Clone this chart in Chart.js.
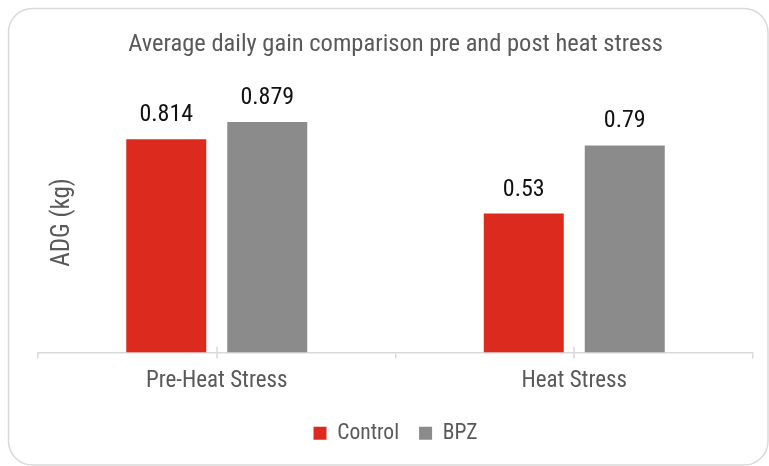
<!DOCTYPE html>
<html>
<head>
<meta charset="utf-8">
<script src="https://cdn.jsdelivr.net/npm/chart.js@4/dist/chart.umd.min.js"></script>
<style>
html,body{margin:0;padding:0;background:#fff;}
canvas{display:block;}
</style>
</head>
<body>
<canvas id="c" width="769" height="466"></canvas>
<script>
const categories = ['Pre-Heat Stress', 'Heat Stress'];
const seriesNames = ['Control', 'BPZ'];
const controlValues = [0.814, 0.53];
const bpzValues = [0.879, 0.79];
const chartTitle = 'Average daily gain comparison pre and post heat stress';
const yAxisTitle = 'ADG (kg)';

const FONT = '"Roboto Condensed", "Arial Narrow", "Liberation Sans", sans-serif';
const RED = '#DC2A1E';
const GRAY = '#8B8B8B';
const LINE = '#D9D9D9';
const TEXT = '#595959';

const framePlugin = {
  id: 'frame',
  beforeDraw(chart) {
    const ctx = chart.ctx;
    ctx.save();
    ctx.fillStyle = '#fff';
    ctx.fillRect(0, 0, chart.width, chart.height);
    ctx.strokeStyle = LINE;
    ctx.lineWidth = 1.5;
    ctx.beginPath();
    ctx.roundRect(8.5, 8.5, chart.width - 9.5, chart.height - 9.5, 24);
    ctx.stroke();
    ctx.restore();
  }
};

const extrasPlugin = {
  id: 'extras',
  afterDatasetsDraw(chart) {
    const ctx = chart.ctx;
    const xs = chart.scales.x;
    const area = chart.chartArea;
    ctx.save();
    // mid-category tick marks
    ctx.strokeStyle = LINE;
    ctx.lineWidth = 1.5;
    categories.forEach((c, i) => {
      const px = Math.round(xs.getPixelForValue(i));
      ctx.beginPath();
      ctx.moveTo(px, area.bottom - 6);
      ctx.lineTo(px, area.bottom + 6);
      ctx.stroke();
    });
    // data labels
    ctx.fillStyle = '#111';
    ctx.font = '24px ' + FONT;
    ctx.textAlign = 'center';
    ctx.textBaseline = 'alphabetic';
    chart.data.datasets.forEach((ds, di) => {
      const meta = chart.getDatasetMeta(di);
      meta.data.forEach((bar, i) => {
        ctx.fillText(String(ds.data[i]), bar.x, bar.y - 18);
      });
    });
    // y axis title
    ctx.fillStyle = TEXT;
    ctx.font = '25px ' + FONT;
    ctx.translate(area.left + 25, (area.top + area.bottom) / 2 + 1);
    ctx.rotate(-Math.PI / 2);
    ctx.textBaseline = 'middle';
    ctx.fillText(yAxisTitle, 0, 0);
    ctx.restore();
  }
};

new Chart(document.getElementById('c'), {
  type: 'bar',
  data: {
    labels: categories,
    datasets: [
      { label: seriesNames[0], data: controlValues, backgroundColor: RED, categoryPercentage: 0.565, barPercentage: 0.792 },
      { label: seriesNames[1], data: bpzValues, backgroundColor: GRAY, categoryPercentage: 0.565, barPercentage: 0.792 }
    ]
  },
  options: {
    responsive: false,
    animation: false,
    devicePixelRatio: 1,
    layout: { padding: { left: 38, right: 16, top: 0, bottom: 12 } },
    plugins: {
      title: {
        display: true,
        text: chartTitle,
        color: TEXT,
        font: { family: FONT, size: 24.5, weight: 'normal' },
        padding: { top: 30, bottom: 31 }
      },
      legend: {
        position: 'bottom',
        labels: {
          color: TEXT,
          font: { family: FONT, size: 21.5 },
          boxWidth: 13,
          boxHeight: 13,
          padding: 20
        }
      },
      tooltip: { enabled: false }
    },
    scales: {
      x: {
        offset: true,
        grid: { offset: true, drawOnChartArea: false, drawTicks: true, tickLength: 6, color: LINE, lineWidth: 1.5 },
        border: { color: LINE, width: 1.5 },
        ticks: { color: TEXT, font: { family: FONT, size: 23 }, padding: 9 },
        afterFit(scale) { scale.height = 50; }
      },
      y: {
        display: false,
        min: 0,
        max: 1
      }
    }
  },
  plugins: [framePlugin, extrasPlugin]
});
</script>
</body>
</html>
